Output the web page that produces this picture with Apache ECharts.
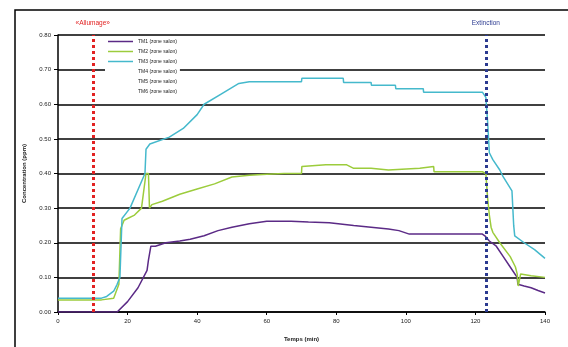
<!DOCTYPE html>
<html>
<head>
<meta charset="utf-8">
<script src="https://cdn.jsdelivr.net/npm/echarts@6/dist/echarts.min.js"></script>
<style>
html,body{margin:0;padding:0;background:#fff;}
#main{width:568px;height:347px;}
</style>
</head>
<body>
<div id="main"></div>
<script>
// noms des séries (légende)
var names = ['TM1 (zone salon)', 'TM2 (zone salon)', 'TM3 (zone salon)', 'TM4 (zone salon)', 'TM5 (zone salon)', 'TM6 (zone salon)'];

// temps (min) et concentrations (ppm)
var tPurple = [0, 17, 20, 23, 25.6, 26, 26.7, 28, 31, 35, 38, 42, 46, 50, 55, 60, 67, 72, 78, 85, 90, 95, 98, 101, 122, 122.7, 124, 126, 128, 130, 132, 132.2, 134, 136, 138, 140];
var vPurple = [0.0, 0.0, 0.03, 0.07, 0.12, 0.15, 0.19, 0.19, 0.20, 0.205, 0.21, 0.22, 0.235, 0.245, 0.255, 0.262, 0.262, 0.26, 0.258, 0.25, 0.245, 0.24, 0.235, 0.225, 0.225, 0.22, 0.205, 0.19, 0.16, 0.13, 0.10, 0.08, 0.075, 0.07, 0.062, 0.055];

var tGreen = [0, 12.5, 16, 17.5, 18, 19, 20, 22, 24, 25.3, 26, 26.3, 27, 30, 35, 40, 45, 50, 55, 60, 65, 70, 70.1, 77, 83, 85, 90, 95, 104, 104.1, 108, 108.1, 122, 123, 123.5, 124, 124.5, 125, 127, 130, 131.5, 132, 132.3, 133, 136, 140];
var vGreen = [0.035, 0.035, 0.04, 0.08, 0.24, 0.265, 0.27, 0.28, 0.30, 0.40, 0.40, 0.30, 0.31, 0.32, 0.34, 0.355, 0.37, 0.39, 0.395, 0.398, 0.40, 0.40, 0.42, 0.425, 0.425, 0.415, 0.415, 0.41, 0.415, 0.42, 0.42, 0.405, 0.405, 0.40, 0.33, 0.28, 0.245, 0.23, 0.20, 0.16, 0.13, 0.11, 0.075, 0.11, 0.105, 0.10];

var tCyan = [0, 12.5, 14, 16, 17, 17.8, 18.4, 20.7, 25, 25.3, 26.4, 32, 36, 40, 42, 47, 52, 55, 62, 70, 70.1, 82, 82.1, 90, 90.1, 97, 97.1, 105, 105.1, 122, 123, 123.5, 124, 125, 127, 128, 130.5, 131, 131.3, 134, 137, 140];
var vCyan = [0.04, 0.04, 0.045, 0.06, 0.08, 0.10, 0.27, 0.30, 0.40, 0.47, 0.485, 0.505, 0.53, 0.57, 0.60, 0.63, 0.66, 0.665, 0.665, 0.665, 0.675, 0.675, 0.663, 0.663, 0.655, 0.655, 0.645, 0.645, 0.635, 0.635, 0.62, 0.55, 0.46, 0.44, 0.41, 0.39, 0.35, 0.25, 0.22, 0.20, 0.18, 0.155];

var tAllumage = 10;
var tExtinction = 123;

function pairs(t, v) {
  return t.map(function (x, i) { return [x, v[i]]; });
}

var myChart = echarts.init(document.getElementById('main'));

function ligne(nom, couleur, data) {
  return {
    name: nom,
    type: 'line',
    data: data,
    symbol: 'none',
    lineStyle: { color: couleur, width: 1.5 },
    itemStyle: { color: couleur },
    z: 3
  };
}

var series = [
  ligne(names[0], '#5b2a86', pairs(tPurple, vPurple)),
  ligne(names[1], '#9ccc3c', pairs(tGreen, vGreen)),
  ligne(names[2], '#45b9cc', pairs(tCyan, vCyan)),
  ligne(names[3], '#ffffff', []),
  ligne(names[4], '#ffffff', []),
  ligne(names[5], '#ffffff', [])
];

// lignes verticales allumage / extinction
series[0].markLine = {
  symbol: 'none',
  silent: true,
  animation: false,
  data: [
    { xAxis: tAllumage, lineStyle: { color: '#e22222', type: [3, 3], width: 3 },
      label: { formatter: '«Allumage»', color: '#e22222' } },
    { xAxis: tExtinction, lineStyle: { color: '#2b3a90', type: [3, 3], width: 3 },
      label: { formatter: 'Extinction', color: '#2b3a90' } }
  ],
  label: { position: 'end', distance: 8, fontSize: 6.5, fontFamily: 'Liberation Sans' }
};

option = {
  animation: false,
  backgroundColor: '#fff',
  textStyle: { fontFamily: 'Liberation Sans' },
  graphic: [{
    type: 'rect',
    shape: { x: 15, y: 10, width: 600, height: 400 },
    style: { fill: 'none', stroke: '#000', lineWidth: 1.5 },
    silent: true
  }],
  grid: { left: 58, right: 23, top: 35, bottom: 31 },
  legend: {
    data: names,
    orient: 'vertical',
    left: 105,
    top: 37,
    padding: [2, 3],
    icon: 'rect',
    itemWidth: 25,
    itemHeight: 1.5,
    itemGap: 5,
    backgroundColor: '#fff',
    textStyle: { fontSize: 5, color: '#222' }
  },
  xAxis: {
    type: 'value',
    min: 0,
    max: 140,
    interval: 20,
    name: 'Temps (min)',
    nameLocation: 'middle',
    nameGap: 24,
    nameTextStyle: { fontSize: 6, fontWeight: 'bold', color: '#222' },
    axisLine: { lineStyle: { color: '#000', width: 1.5 } },
    axisTick: { show: true, length: 3, lineStyle: { color: '#000' } },
    axisLabel: { fontSize: 6, color: '#222', margin: 6 },
    splitLine: { show: false }
  },
  yAxis: {
    type: 'value',
    min: 0,
    max: 0.8,
    interval: 0.1,
    name: 'Concentration (ppm)',
    nameLocation: 'middle',
    nameGap: 31,
    nameTextStyle: { fontSize: 6, fontWeight: 'bold', color: '#222' },
    axisLine: { show: true, lineStyle: { color: '#000', width: 1.5 } },
    axisTick: { show: true, length: 4, lineStyle: { color: '#000' } },
    axisLabel: { fontSize: 6, color: '#222', margin: 7, formatter: function (v) { return v.toFixed(2); } },
    splitLine: { show: true, lineStyle: { color: '#000', width: 1.5 } }
  },
  series: series
};

myChart.setOption(option);
</script>
</body>
</html>
